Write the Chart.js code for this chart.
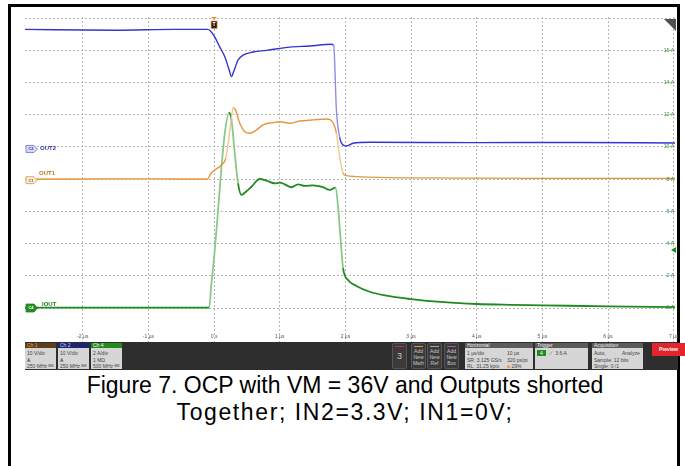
<!DOCTYPE html>
<html>
<head>
<meta charset="utf-8">
<script src="https://cdn.jsdelivr.net/npm/chart.js@4.4.0/dist/chart.umd.min.js"></script>
<style>
body { margin:0; width:685px; height:466px; background:#fff; position:relative; overflow:hidden; font-family:"Liberation Sans", Arial, sans-serif; }
#frame { position:absolute; left:8px; top:4px; width:666px; height:470px; border:3px solid #000; border-bottom:none; }
#plot { position:absolute; left:11px; top:7px; width:674px; height:335px; }
#bar { position:absolute; left:25px; top:342px; width:653px; height:28px; background:#2e2e2e; z-index:2; font-size:5px; line-height:6px; }
.box { position:absolute; top:1px; height:26px; background:#d6d6d6; color:#444; overflow:hidden; white-space:nowrap; }
.box .hd { height:5px; line-height:5px; padding-left:2px; background:#5b5b5b; color:#eee; }
.box .bd { padding:2px 2px 0 2px; line-height:6.5px; position:relative; }
.btn { position:absolute; top:1px; width:13px; height:24px; background:#3a3a3a; border:1px solid #555; border-radius:2px; color:#c8c8c8; text-align:center; }
.btn .ln { width:9px; height:1px; margin:2px auto 1px auto; }
#preview { position:absolute; left:652px; top:343px; width:33px; height:13px; background:#e3262b; color:#fff; font-weight:bold; font-size:5px; line-height:13px; text-align:center; z-index:3; }
#caption { position:absolute; left:10px; top:372px; width:670px; text-align:center; font-size:23px; line-height:27px; color:#000; }
#caption .l2 { letter-spacing:1.6px; }
</style>
</head>
<body>
<div id="frame"></div>
<div id="plot"><canvas id="scope"></canvas></div>

<div id="bar">
  <div class="box" style="left:0;width:31px"><div class="hd" style="background:#5e3f1c;color:#f0a040">Ch 1</div><div class="bd">10 V/div<br>Ѧ<br>250 MHz ᴮᵂ</div></div>
  <div class="box" style="left:33px;width:31px"><div class="hd" style="background:#1f2470;color:#c8ccff">Ch 2</div><div class="bd">10 V/div<br>Ѧ<br>250 MHz ᴮᵂ</div></div>
  <div class="box" style="left:66px;width:31px"><div class="hd" style="background:#1f8c1f;color:#fff">Ch 4</div><div class="bd">2 A/div<br>1 MΩ<br>500 MHz ᴮᵂ</div></div>

  <div class="btn" style="left:367px"><div class="ln" style="background:#c0392b"></div><div style="font-size:9px;line-height:16px">3</div></div>
  <div class="btn" style="left:386px"><div class="ln" style="background:#e8963c"></div>Add<br>New<br>Math</div>
  <div class="btn" style="left:402px"><div class="ln" style="background:#aaa"></div>Add<br>New<br>Ref</div>
  <div class="btn" style="left:419px"><div class="ln" style="background:#9b59b6"></div>Add<br>New<br>Bus</div>

  <div class="box" style="left:440px;width:68px"><div class="hd">Horizontal</div>
    <div class="bd">1 µs/div<br>SR: 3.125 GS/s<br>RL: 31.25 kpts
      <div style="position:absolute;left:42px;top:2px">10 µs<br>320 ps/pt<br><span style="color:#e8963c">■</span> 29%</div></div></div>
  <div class="box" style="left:510px;width:53px"><div class="hd">Trigger</div>
    <div class="bd"><span style="background:#1f8c1f;color:#fff;padding:0 3px">4</span>&nbsp; ⟋&nbsp; 3.6 A</div></div>
  <div class="box" style="left:567px;width:51px"><div class="hd">Acquisition</div>
    <div class="bd">Auto,<span style="position:absolute;left:30px">Analyze</span><br>Sample: 12 bits<br>Single: 0 /1</div></div>
</div>
<div id="preview">Preview</div>

<div id="caption">Figure 7. OCP with VM = 36V and Outputs shorted<br><span class="l2">Together; IN2=3.3V; IN1=0V;</span></div>

<script>
// time axis in µs, levels in Ch4 grid units (A)
const xGrid = [-2, -1, 0, 1, 2, 3, 4, 5, 6, 7];
const xTickLabels = ['-2 µs', '-1 µs', '0 s', '1 µs', '2 µs', '3 µs', '4 µs', '5 µs', '6 µs', '7 µs'];
const yGrid = [0, 2, 4, 6, 8, 10, 12, 14, 16, 18];
const yLabelValues = [0, 2, 4, 6, 8, 10, 12, 14, 16];
const yTickLabels = ['0 A', '2 A', '4 A', '6 A', '8 A', '10 A', '12 A', '14 A', '16 A'];

const out2Time = [-2.88, -1.5, -0.6, -0.096, 0.0, 0.087, 0.163, 0.228, 0.265, 0.300, 0.365, 0.441, 0.594, 0.798, 1.152, 1.457, 1.787, 1.822, 1.863, 1.913, 1.974, 2.015, 2.116, 2.370, 4.0, 5.5, 7.02];
const out2Level = [17.3, 17.25, 17.3, 17.3, 16.9, 16.2, 15.6, 14.8, 14.37, 14.7, 15.4, 15.7, 15.9, 16.0, 16.2, 16.27, 16.38, 16.3, 12.3, 10.6, 10.1, 10.06, 10.23, 10.29, 10.27, 10.28, 10.25];

const out1Time = [-2.88, -1.0, -0.096, -0.055, 0.011, 0.113, 0.178, 0.228, 0.265, 0.289, 0.326, 0.391, 0.467, 0.543, 0.645, 0.746, 0.898, 1.0, 1.152, 1.304, 1.507, 1.711, 1.822, 1.863, 1.898, 1.939, 1.964, 2.015, 2.167, 3.0, 5.0, 7.02];
const out1Level = [8.0, 8.02, 8.01, 8.32, 8.57, 8.88, 9.3, 10.64, 11.88, 12.44, 12.3, 11.47, 10.95, 10.85, 11.06, 11.37, 11.51, 11.57, 11.47, 11.61, 11.68, 11.74, 11.43, 10.85, 9.81, 8.78, 8.37, 8.22, 8.16, 8.08, 8.05, 8.05];

const ioutTime = [-2.88, -1.0, -0.076, -0.04, 0.011, 0.061, 0.113, 0.163, 0.228, 0.265, 0.315, 0.365, 0.417, 0.467, 0.569, 0.696, 0.798, 0.924, 1.0, 1.076, 1.178, 1.279, 1.381, 1.507, 1.659, 1.761, 1.852, 1.888, 1.924, 1.964, 2.040, 2.167, 2.370, 2.6, 3.0, 3.5, 4.0, 4.5, 5.0, 6.0, 7.02];
const ioutLevel = [0.02, 0.03, 0.02, 1.53, 3.6, 6.09, 8.78, 10.85, 12.13, 11.68, 9.6, 7.74, 7.02, 7.16, 7.53, 8.01, 7.91, 7.74, 7.78, 7.68, 7.5, 7.68, 7.58, 7.62, 7.5, 7.33, 7.47, 6.29, 4.43, 2.47, 1.74, 1.37, 1.01, 0.78, 0.55, 0.36, 0.25, 0.2, 0.17, 0.1, 0.06];

const triggerLevel = 3.6;

function toPoints(ts, vs) {
    return ts.map((t, i) => ({ x: t, y: vs[i] }));
}

// fast edges look faint on the scope screen
function edgeColor(dark, light) {
    return ctx => {
        const dx = Math.abs(ctx.p1.x - ctx.p0.x) || 0.1;
        const dy = Math.abs(ctx.p1.y - ctx.p0.y);
        return dy / dx > 4 ? light : dark;
    };
}

function trace(name, ts, vs, dark, light, width) {
    return {
        label: name,
        data: toPoints(ts, vs),
        borderColor: dark,
        borderWidth: width,
        pointRadius: 0,
        cubicInterpolationMode: 'monotone',
        segment: { borderColor: edgeColor(dark, light) }
    };
}

function badge(ctx, x, y, h, fill, stroke, textColor, text) {
    ctx.beginPath();
    ctx.moveTo(x, y - h / 2);
    ctx.lineTo(x + 8, y - h / 2);
    ctx.lineTo(x + 11.5, y);
    ctx.lineTo(x + 8, y + h / 2);
    ctx.lineTo(x, y + h / 2);
    ctx.closePath();
    ctx.fillStyle = fill;
    ctx.fill();
    ctx.lineWidth = 0.8;
    ctx.strokeStyle = stroke;
    ctx.stroke();
    ctx.fillStyle = textColor;
    ctx.font = 'bold 4px "Liberation Sans", Arial, sans-serif';
    ctx.textAlign = 'center';
    ctx.textBaseline = 'middle';
    ctx.fillText(text, x + 5, y + 0.3);
}

const scopeOverlay = {
    id: 'scopeOverlay',
    afterDraw(chart) {
        const { ctx, chartArea: a, scales: { x, y } } = chart;
        ctx.save();

        // time labels along the bottom
        ctx.font = '5px "Liberation Sans", Arial, sans-serif';
        ctx.fillStyle = '#555';
        ctx.textAlign = 'center';
        ctx.textBaseline = 'middle';
        xGrid.forEach((v, i) => ctx.fillText(xTickLabels[i], x.getPixelForValue(v), a.bottom - 5));

        // amp labels on the right
        ctx.textAlign = 'right';
        ctx.fillStyle = '#2e8b2e';
        yLabelValues.forEach((v, i) => ctx.fillText(yTickLabels[i], a.right - 1, y.getPixelForValue(v)));

        // channel markers
        const bx = a.left + 1;
        badge(ctx, bx, y.getPixelForValue(10) + 2, 7, '#dcdcf6', '#6b6bd0', '#3333aa', 'C2');
        badge(ctx, bx, y.getPixelForValue(8) + 1, 7, '#f8ecd8', '#d49a50', '#a06020', 'C1');
        badge(ctx, bx, y.getPixelForValue(0), 8, '#238c23', '#238c23', '#fff', 'C4');

        ctx.font = 'bold 6px "Liberation Sans", Arial, sans-serif';
        ctx.textAlign = 'left';
        ctx.fillStyle = '#3535a8';
        ctx.fillText('OUT2', a.left + 15, y.getPixelForValue(10) + 1);
        ctx.fillStyle = '#c07820';
        ctx.fillText('OUT1', a.left + 14, y.getPixelForValue(8) - 6);
        ctx.fillStyle = '#1f7a1f';
        ctx.fillText('IOUT', a.left + 17, y.getPixelForValue(0) - 4);

        // trigger position marker
        const tx = x.getPixelForValue(0);
        ctx.fillStyle = '#e8963c';
        ctx.beginPath();
        ctx.moveTo(tx - 3, a.top);
        ctx.lineTo(tx + 3, a.top);
        ctx.lineTo(tx, a.top + 3);
        ctx.closePath();
        ctx.fill();
        ctx.fillStyle = '#2b1d10';
        ctx.fillRect(tx - 3, a.top + 4, 6, 7.5);
        ctx.strokeStyle = '#e8963c';
        ctx.lineWidth = 0.7;
        ctx.strokeRect(tx - 3, a.top + 4, 6, 7.5);
        ctx.fillStyle = '#fff';
        ctx.font = 'bold 5px "Liberation Sans", Arial, sans-serif';
        ctx.textAlign = 'center';
        ctx.fillText('T', tx, a.top + 8);

        // trigger level arrow
        const ty = y.getPixelForValue(triggerLevel);
        ctx.fillStyle = '#1f8c1f';
        ctx.beginPath();
        ctx.moveTo(a.right - 4, ty);
        ctx.lineTo(a.right + 1, ty - 3);
        ctx.lineTo(a.right + 1, ty + 3);
        ctx.closePath();
        ctx.fill();

        // corner tab
        ctx.fillStyle = '#505050';
        ctx.beginPath();
        ctx.moveTo(a.right - 11, a.top + 2);
        ctx.lineTo(a.right + 1, a.top + 2);
        ctx.lineTo(a.right + 1, a.top + 14);
        ctx.closePath();
        ctx.fill();

        ctx.restore();
    }
};

new Chart(document.getElementById('scope'), {
    type: 'line',
    data: {
        datasets: [
            trace('OUT2', out2Time, out2Level, '#3434cf', '#8e8ee6', 1.4),
            trace('OUT1', out1Time, out1Level, '#e6963c', '#f2c690', 1.4),
            trace('IOUT', ioutTime, ioutLevel, '#1f8a1f', '#8cc88c', 1.8)
        ]
    },
    options: {
        responsive: true,
        maintainAspectRatio: false,
        animation: false,
        layout: { padding: { left: 14, top: 10, right: 10, bottom: 0 } },
        plugins: {
            legend: { display: false },
            tooltip: { enabled: false }
        },
        scales: {
            x: {
                type: 'linear',
                min: -2.88,
                max: 7.02,
                grid: { color: '#b8b8b8', lineWidth: 1, drawTicks: false },
                border: { display: false, dash: [2, 2] },
                ticks: { display: false },
                afterBuildTicks: axis => { axis.ticks = xGrid.map(v => ({ value: v })); }
            },
            y: {
                min: -2.11,
                max: 18.07,
                grid: { color: '#b8b8b8', lineWidth: 1, drawTicks: false },
                border: { display: false, dash: [2, 2] },
                ticks: { display: false },
                afterBuildTicks: axis => { axis.ticks = yGrid.map(v => ({ value: v })); }
            }
        }
    },
    plugins: [scopeOverlay]
});
</script>
</body>
</html>
